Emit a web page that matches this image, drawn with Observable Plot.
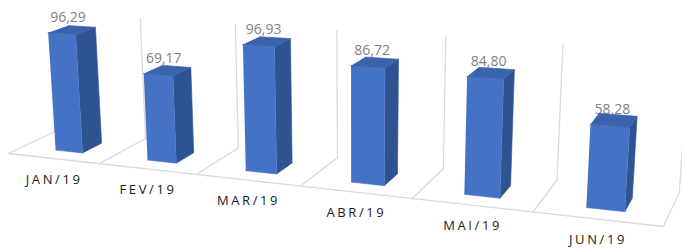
<!DOCTYPE html>
<html>
<head>
<meta charset="utf-8">
<script src="https://cdn.jsdelivr.net/npm/d3@7"></script>
<script src="https://cdn.jsdelivr.net/npm/@observablehq/plot@0.6"></script>
<style>
  html, body { margin: 0; padding: 0; background: #ffffff; }
  #chart svg { display: block; }
</style>
</head>
<body>
<div id="chart"></div>
<script>
// ---- data ----
const categories = ["JAN/19", "FEV/19", "MAR/19", "ABR/19", "MAI/19", "JUN/19"];
const values = [96.29, 69.17, 96.93, 86.72, 84.80, 58.28];
const wallTop = 100; // height of the back wall, in value units

// ---- layout: a perspective camera (world X = category slot, Z = depth, Y = value) ----
const W = 682, H = 248;
const cam = {u0: 8, uX: 87.55, uZ: 53.5, v0: 153, vX: 4.8, vZ: -16,
             wX: -0.0326, wZ: 0.06, lam: -0.0002521, vpx: 355, vpy: 4892};
function project(X, Z, Y) {
  const k = cam.lam * Y;
  const w = 1 + cam.wX * X + cam.wZ * Z + k;
  return [(cam.u0 + cam.uX * X + cam.uZ * Z + cam.vpx * k) / w,
          (cam.v0 + cam.vX * X + cam.vZ * Z + cam.vpy * k) / w];
}
const bar = {x0: 0.37, w: 0.30, z0: 0.28, z1: 0.68};
const colors = {front: "#4472C4", side: "#2F5290", top: "#3A63AD"};
const grid = "#D9D9D9";
const n = categories.length;

// floor + wall lines
const lines = [];
function addLine(id, pts) { pts.forEach(([X, Z, Y]) => { const [u, v] = project(X, Z, Y); lines.push({id, u, v}); }); }
addLine("front", [[0, 0, 0], [n, 0, 0]]);
for (let i = 0; i <= n; i++) addLine("div" + i, [[i, 0, 0], [i, 1, 0]]);
for (let i = 1; i <= n; i++) addLine("wall" + i, [[i, 1, 0], [i, 1, wallTop]]);

// bar faces
const faces = [];
function addFace(id, color, pts) { pts.forEach(([X, Z, Y]) => { const [u, v] = project(X, Z, Y); faces.push({id, color, u, v}); }); }
values.forEach((val, i) => {
  const x0 = i + bar.x0, x1 = x0 + bar.w, z0 = bar.z0, z1 = bar.z1;
  addFace(i + "side", colors.side, [[x1, z0, 0], [x1, z1, 0], [x1, z1, val], [x1, z0, val]]);
  addFace(i + "front", colors.front, [[x0, z0, 0], [x1, z0, 0], [x1, z0, val], [x0, z0, val]]);
  addFace(i + "top", colors.top, [[x0, z0, val], [x1, z0, val], [x1, z1, val], [x0, z1, val]]);
});

// labels
const fmt = d3.formatLocale({decimal: ",", thousands: ".", grouping: [3], currency: ["R$", ""]}).format(".2f");
const valueLabels = values.map((val, i) => {
  const [u, v] = project(i + bar.x0 + bar.w / 2, bar.z0 + (bar.z1 - bar.z0) * 0.3, val);
  return {u, v, text: fmt(val)};
});
const catLabels = categories.map((c, i) => {
  const [u, v] = project(i + 0.5, 0, 0);
  return {u, v, text: c};
});

const chart = Plot.plot({
  width: W, height: H, margin: 0,
  x: {type: "identity", axis: null},
  y: {type: "identity", axis: null},
  color: {type: "identity"},
  style: {background: "#ffffff"},
  marks: [
    Plot.line(lines, {x: "u", y: "v", z: "id", stroke: grid, strokeWidth: 1.3}),
    Plot.line(faces, {x: "u", y: "v", z: "id", fill: "color", stroke: "color", strokeWidth: 0.6}),
    Plot.text(valueLabels, {x: "u", y: "v", text: "text", fill: "#7F7F7F", fontSize: 14,
      fontFamily: "Open Sans", lineAnchor: "bottom", dy: -9}),
    Plot.text(catLabels, {x: "u", y: "v", text: "text", fill: "#1a1a1a", fontSize: 13,
      fontFamily: "Open Sans", dy: 21, dx: 1})
  ]
});
// letter spacing for category labels
d3.select(chart).selectAll("text").filter(function() { return categories.includes(this.textContent); })
  .style("letter-spacing", "2.6px");
document.getElementById("chart").append(chart);
</script>
</body>
</html>
